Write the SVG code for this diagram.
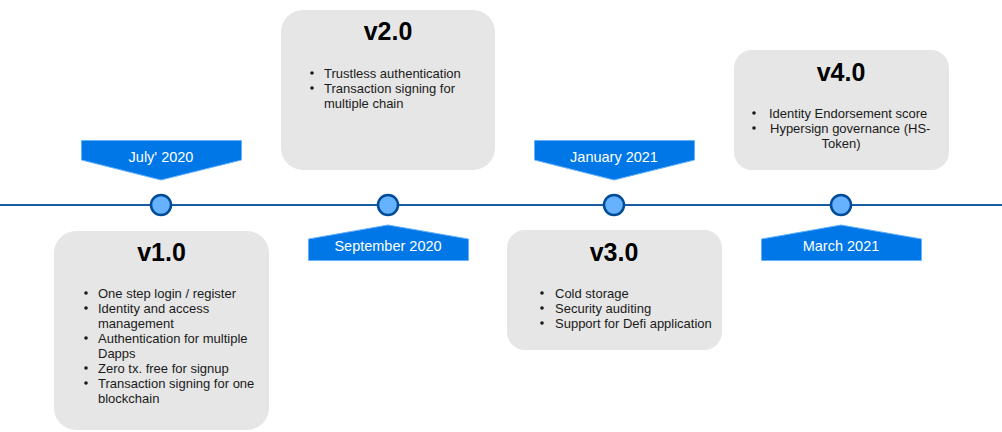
<svg xmlns="http://www.w3.org/2000/svg" width="1002" height="432" viewBox="0 0 1002 432">
<style>
.box{fill:#e6e6e6;stroke:none}
.title{font-family:"Liberation Sans",Arial,sans-serif;font-size:25px;font-weight:bold;fill:#000;text-anchor:middle}
.item{font-family:"Liberation Sans",Arial,sans-serif;font-size:13px;fill:#1a1a1a}
.bul{fill:#1a1a1a}
.tag{fill:#0077e6;stroke:#66b2ff;stroke-width:1}
.tagt{font-family:"Liberation Sans",Arial,sans-serif;font-size:14.5px;fill:#ffffff;text-anchor:middle}
.dot{fill:#66b2ff;stroke:#004c99;stroke-width:2.5}
.line{stroke:#1a5ca3;stroke-width:2;fill:none}
</style>
<g id="connectors">
<line class="line" x1="0" y1="205" x2="1002" y2="205"/>
</g>
<g id="dot1"><circle class="dot" cx="161" cy="205" r="10"/></g>
<g id="dot2"><circle class="dot" cx="388" cy="205" r="10"/></g>
<g id="dot3"><circle class="dot" cx="614" cy="205" r="10"/></g>
<g id="dot4"><circle class="dot" cx="841" cy="205" r="10"/></g>

<g id="tag-july">
<polygon class="tag" points="81.5,140.5 241.5,140.5 241.5,160 161,180 81.5,160"/>
<text class="tagt" x="161" y="162">July' 2020</text>
</g>
<g id="tag-sept">
<polygon class="tag" points="308.5,239 388,225 468.5,239 468.5,260.5 308.5,260.5"/>
<text class="tagt" x="388" y="250.5">September 2020</text>
</g>
<g id="tag-jan">
<polygon class="tag" points="534.5,140.5 694.5,140.5 694.5,160 614,180 534.5,160"/>
<text class="tagt" x="614" y="162">January 2021</text>
</g>
<g id="tag-march">
<polygon class="tag" points="761.5,239 841,225 921.5,239 921.5,260.5 761.5,260.5"/>
<text class="tagt" x="841" y="250.5">March 2021</text>
</g>

<g id="v1">
<rect class="box" x="54" y="231" width="215" height="199" rx="22"/>
<text class="title" x="161.5" y="261">v1.0</text>
<g class="bul">
<circle cx="86" cy="293" r="1.8"/><circle cx="86" cy="308" r="1.8"/><circle cx="86" cy="338" r="1.8"/><circle cx="86" cy="368" r="1.8"/><circle cx="86" cy="383" r="1.8"/>
</g>
<text class="item" x="98" y="298">One step login / register</text>
<text class="item" x="98" y="313">Identity and access</text>
<text class="item" x="98" y="328">management</text>
<text class="item" x="98" y="343">Authentication for multiple</text>
<text class="item" x="98" y="358">Dapps</text>
<text class="item" x="98" y="373">Zero tx. free for signup</text>
<text class="item" x="98" y="388">Transaction signing for one</text>
<text class="item" x="98" y="403">blockchain</text>
</g>

<g id="v2">
<rect class="box" x="281" y="10" width="214" height="160" rx="22"/>
<text class="title" x="388" y="40">v2.0</text>
<g class="bul">
<circle cx="312" cy="73" r="1.8"/><circle cx="312" cy="88" r="1.8"/>
</g>
<text class="item" x="324" y="78">Trustless authentication</text>
<text class="item" x="324" y="93">Transaction signing for</text>
<text class="item" x="324" y="108">multiple chain</text>
</g>

<g id="v3">
<rect class="box" x="507" y="230" width="215" height="120" rx="18"/>
<text class="title" x="614" y="261">v3.0</text>
<g class="bul">
<circle cx="542" cy="293" r="1.8"/><circle cx="542" cy="308" r="1.8"/><circle cx="542" cy="323" r="1.8"/>
</g>
<text class="item" x="555" y="298">Cold storage</text>
<text class="item" x="555" y="313">Security auditing</text>
<text class="item" x="555" y="328">Support for Defi application</text>
</g>

<g id="v4">
<rect class="box" x="734" y="50" width="215" height="120" rx="18"/>
<text class="title" x="841" y="81">v4.0</text>
<g class="bul">
<circle cx="754" cy="113" r="1.8"/><circle cx="754" cy="128" r="1.8"/>
</g>
<text class="item" x="769" y="118">Identity Endorsement score</text>
<text class="item" x="770" y="133">Hypersign governance (HS-</text>
<text class="item" x="841" y="148" text-anchor="middle">Token)</text>
</g>
</svg>
